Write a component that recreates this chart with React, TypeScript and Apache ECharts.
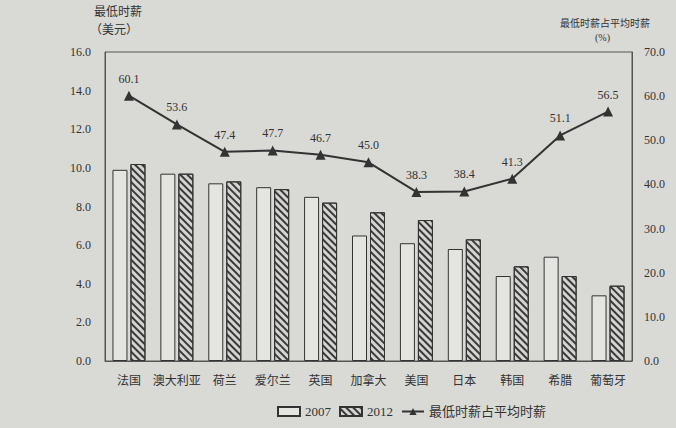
import React, { useEffect, useRef } from "react";
import * as echarts from "echarts";

const categories = ["法国", "澳大利亚", "荷兰", "爱尔兰", "英国", "加拿大", "美国", "日本", "韩国", "希腊", "葡萄牙"];
const wage2007 = [9.9, 9.7, 9.2, 9.0, 8.5, 6.5, 6.1, 5.8, 4.4, 5.4, 3.4];
const wage2012 = [10.2, 9.7, 9.3, 8.9, 8.2, 7.7, 7.3, 6.3, 4.9, 4.4, 3.9];
const ratio = [60.1, 53.6, 47.4, 47.7, 46.7, 45.0, 38.3, 38.4, 41.3, 51.1, 56.5];
const seriesNames = ["2007", "2012", "最低时薪占平均时薪"];

const FONT = "'Liberation Serif', 'Noto Sans CJK SC', serif";
const INK = "#333333";

export default function App() {
  const ref = useRef<HTMLDivElement>(null);
  useEffect(() => {
    if (!ref.current) return;
    const chart = echarts.init(ref.current, undefined, { renderer: "svg" });
    const hatch = {
      symbol: "rect",
      symbolSize: 1,
      dashArrayX: [1, 0],
      dashArrayY: [1.6, 2.2],
      rotation: Math.PI / 4,
      color: "#3a3a3a",
    };
    chart.setOption({
      animation: false,
      backgroundColor: "#d9d9d6",
      textStyle: { fontFamily: FONT, color: INK },
      grid: { left: 105, right: 44, top: 52, bottom: 67, show: true, borderColor: "#555", borderWidth: 1, backgroundColor: "transparent" },
      legend: {
        left: 272,
        top: 400,
        itemWidth: 22,
        itemHeight: 9,
        itemGap: 8,
        textStyle: { fontFamily: FONT, fontSize: 13, color: INK },
        data: [
          { name: seriesNames[0], icon: "rect" },
          { name: seriesNames[1], icon: "rect" },
          { name: seriesNames[2] },
        ],
      },
      xAxis: {
        type: "category",
        data: categories,
        axisLine: { show: true, lineStyle: { color: "#555" } },
        axisTick: { show: false },
        axisLabel: { interval: 0, margin: 12, fontSize: 12, color: INK, fontFamily: "'Noto Sans CJK SC', serif" },
      },
      yAxis: [
        {
          type: "value",
          min: 0,
          max: 16,
          interval: 2,
          splitLine: { show: false },
          axisLine: { show: true, lineStyle: { color: "#555" } },
          axisTick: { show: false },
          axisLabel: { margin: 14, fontSize: 12, color: INK, formatter: (v: number) => v.toFixed(1) },
        },
        {
          type: "value",
          min: 0,
          max: 70,
          interval: 10,
          position: "right",
          splitLine: { show: false },
          axisLine: { show: true, lineStyle: { color: "#555" } },
          axisTick: { show: false },
          axisLabel: { margin: 12, fontSize: 12, color: INK, formatter: (v: number) => v.toFixed(1) },
        },
      ],
      graphic: [
        { type: "text", left: 94, top: 4, style: { text: "最低时薪", font: "12px 'Noto Sans CJK SC'", fill: INK } },
        { type: "text", left: 90, top: 22, style: { text: "（美元）", font: "12px 'Noto Sans CJK SC'", fill: INK } },
        { type: "text", left: 560, top: 17, style: { text: "最低时薪占平均时薪", font: "10px 'Noto Sans CJK SC'", fill: INK } },
        { type: "text", left: 595, top: 32, style: { text: "(%)", font: "10px 'Liberation Serif'", fill: INK } },
      ],
      series: [
        {
          name: seriesNames[0],
          type: "bar",
          data: wage2007,
          barWidth: 15,
          barGap: "20%",
          itemStyle: { color: "#e4e4e1", borderColor: INK, borderWidth: 1 },
        },
        {
          name: seriesNames[1],
          type: "bar",
          data: wage2012,
          barWidth: 15,
          itemStyle: { color: "#d4d4d1", borderColor: INK, borderWidth: 1, decal: hatch },
        },
        {
          name: seriesNames[2],
          type: "line",
          yAxisIndex: 1,
          data: ratio,
          symbol: "triangle",
          symbolSize: 10,
          lineStyle: { color: INK, width: 2 },
          itemStyle: { color: INK },
          label: {
            show: true,
            position: "top",
            distance: 6,
            fontSize: 12,
            color: INK,
            fontFamily: FONT,
            formatter: (p: any) => Number(p.value).toFixed(1),
          },
        },
      ],
    });
    return () => chart.dispose();
  }, []);
  return <div ref={ref} style={{ position: "fixed", left: 0, top: 0, width: 676, height: 428 }} />;
}
